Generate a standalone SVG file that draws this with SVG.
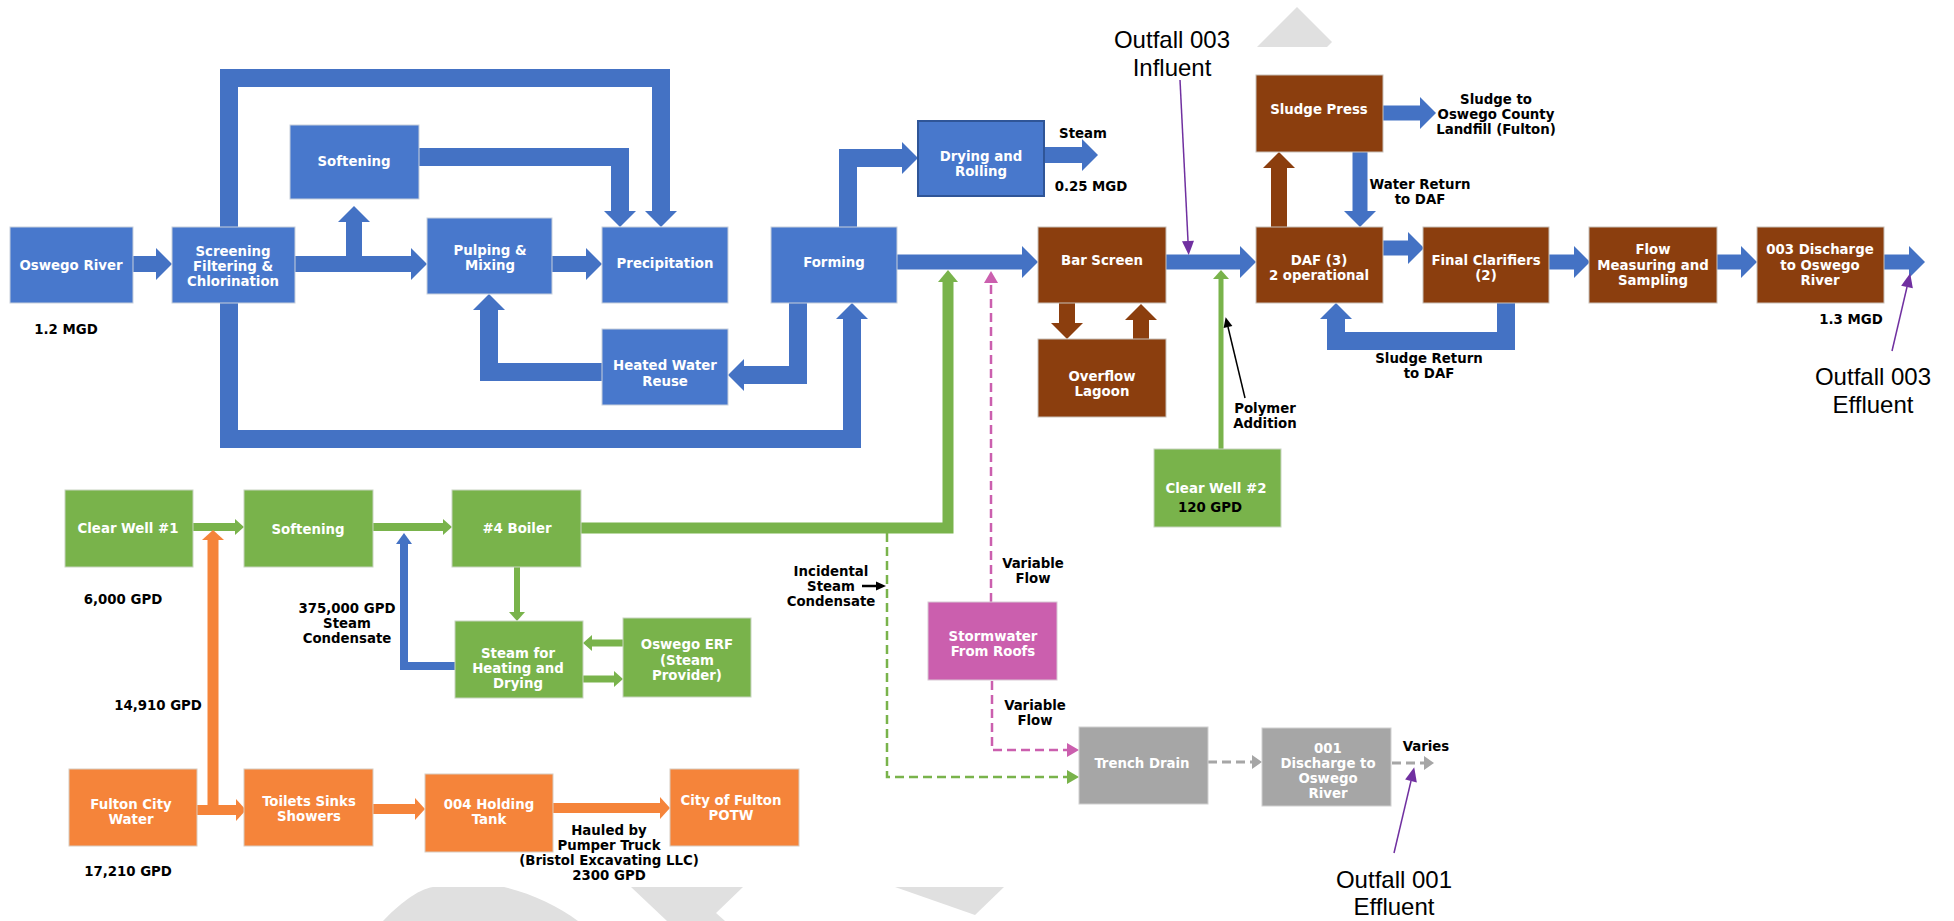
<svg xmlns="http://www.w3.org/2000/svg" width="1954" height="921" viewBox="0 0 1954 921">
<style>
.nb{fill:#4878CC;stroke:#c8d0dc;stroke-width:1}
.nr{fill:#8B3E0E;stroke:#c8c0b8;stroke-width:1}
.ng{fill:#79B34B;stroke:#c8d4c0;stroke-width:1}
.no{fill:#F5843A;stroke:#d8ccc0;stroke-width:1}
.np{fill:#CB5FAE;stroke:#d8c8d4;stroke-width:1}
.ny{fill:#A6A6A6;stroke:#d0d0d0;stroke-width:1}
text{font-family:"DejaVu Sans Condensed","DejaVu Sans",sans-serif;font-weight:bold;font-size:14.8px;text-anchor:middle}
.w{fill:#ffffff}
.k{fill:#000000}
.of{font-family:"Liberation Sans",Arial,sans-serif;font-weight:normal;font-size:24px;fill:#000}
.cb{fill:none;stroke:#4472C4;stroke-linejoin:miter}
.cr{fill:none;stroke:#8B3E0E}
.cg{fill:none;stroke:#79B34B}
.co{fill:none;stroke:#F5843A}
.wm{fill:#E0E0E0}
</style>
<defs>
<marker id="hB" markerUnits="userSpaceOnUse" markerWidth="16" markerHeight="32" viewBox="0 -16 16 32" refX="0" refY="0" orient="auto" overflow="visible"><path d="M0,-16 L16,0 L0,16 Z" fill="#4472C4"/></marker>
<marker id="hR" markerUnits="userSpaceOnUse" markerWidth="16" markerHeight="32" viewBox="0 -16 16 32" refX="0" refY="0" orient="auto" overflow="visible"><path d="M0,-16 L16,0 L0,16 Z" fill="#8B3E0E"/></marker>
<marker id="hBs" markerUnits="userSpaceOnUse" markerWidth="11" markerHeight="16" viewBox="0 -8 11 16" refX="0" refY="0" orient="auto" overflow="visible"><path d="M0,-8 L11,0 L0,8 Z" fill="#4472C4"/></marker>
<marker id="hG1" markerUnits="userSpaceOnUse" markerWidth="12" markerHeight="20" viewBox="0 -10 12 20" refX="0" refY="0" orient="auto" overflow="visible"><path d="M0,-10 L12,0 L0,10 Z" fill="#79B34B"/></marker>
<marker id="hGs" markerUnits="userSpaceOnUse" markerWidth="9" markerHeight="16" viewBox="0 -8 9 16" refX="0" refY="0" orient="auto" overflow="visible"><path d="M0,-8 L9,0 L0,8 Z" fill="#79B34B"/></marker>
<marker id="hGd" markerUnits="userSpaceOnUse" markerWidth="12" markerHeight="14" viewBox="0 -7 12 14" refX="0" refY="0" orient="auto" overflow="visible"><path d="M0,-7 L12,0 L0,7 Z" fill="#79B34B"/></marker>
<marker id="hO" markerUnits="userSpaceOnUse" markerWidth="10" markerHeight="22" viewBox="0 -11 10 22" refX="0" refY="0" orient="auto" overflow="visible"><path d="M0,-11 L10,0 L0,11 Z" fill="#F5843A"/></marker>
<marker id="hP" markerUnits="userSpaceOnUse" markerWidth="12" markerHeight="14" viewBox="0 -7 12 14" refX="0" refY="0" orient="auto" overflow="visible"><path d="M0,-7 L12,0 L0,7 Z" fill="#CB5FAE"/></marker>
<marker id="hY" markerUnits="userSpaceOnUse" markerWidth="10" markerHeight="14" viewBox="0 -7 10 14" refX="0" refY="0" orient="auto" overflow="visible"><path d="M0,-7 L10,0 L0,7 Z" fill="#A6A6A6"/></marker>
<marker id="hU" markerUnits="userSpaceOnUse" markerWidth="14" markerHeight="12" viewBox="0 -6 14 12" refX="0" refY="0" orient="auto" overflow="visible"><path d="M0,-6 L14,0 L0,6 Z" fill="#7030A0"/></marker>
<marker id="hK" markerUnits="userSpaceOnUse" markerWidth="10" markerHeight="9" viewBox="0 -4.5 10 9" refX="0" refY="0" orient="auto" overflow="visible"><path d="M0,-4.5 L10,0 L0,4.5 Z" fill="#000"/></marker>
</defs>
<rect width="1954" height="921" fill="#ffffff"/>
<g id="watermark">
<polygon class="wm" points="1297,7 1257,47 1327,47 1332,42"/>
<path class="wm" d="M383,921 C398,905 418,889 433,887 L504,887 C530,893 558,906 578,921 Z"/>
<polygon class="wm" points="631,887 743,887 716,913 725,921 667,921"/>
<polygon class="wm" points="895,887 1004,887 975,915"/>
</g>
<g id="connectors">
<path class="cb" stroke-width="18" d="M229,227 V78 H661 V211" marker-end="url(#hB)"/>
<path class="cb" stroke-width="18" d="M229,303 V439 H852 V319" marker-end="url(#hB)"/>
<path class="cb" stroke-width="16" d="M133,264 H156" marker-end="url(#hB)"/>
<path class="cb" stroke-width="16" d="M295,264 H411" marker-end="url(#hB)"/>
<path class="cb" stroke-width="16" d="M354,264 V222" marker-end="url(#hB)"/>
<path class="cb" stroke-width="16" d="M552,264 H586" marker-end="url(#hB)"/>
<path class="cb" stroke-width="18" d="M419,157 H620 V211" marker-end="url(#hB)"/>
<path class="cb" stroke-width="18" d="M602,372 H489 V310" marker-end="url(#hB)"/>
<path class="cb" stroke-width="18" d="M798,303 V375 H744" marker-end="url(#hB)"/>
<path class="cb" stroke-width="18" d="M848,227 V158 H902" marker-end="url(#hB)"/>
<path class="cb" stroke-width="16" d="M1044,155 H1082" marker-end="url(#hB)"/>
<path class="cb" stroke-width="15" d="M897,262 H1022" marker-end="url(#hB)"/>
<path class="cb" stroke-width="15" d="M1166,262 H1240" marker-end="url(#hB)"/>
<path class="cb" stroke-width="15" d="M1360,152 V211" marker-end="url(#hB)"/>
<path class="cb" stroke-width="15" d="M1383,113 H1420" marker-end="url(#hB)"/>
<path class="cb" stroke-width="15" d="M1383,248 H1408" marker-end="url(#hB)"/>
<path class="cb" stroke-width="18" d="M1506,303 V341 H1336 V319" marker-end="url(#hB)"/>
<path class="cb" stroke-width="15" d="M1549,262 H1574" marker-end="url(#hB)"/>
<path class="cb" stroke-width="15" d="M1717,262 H1741" marker-end="url(#hB)"/>
<path class="cb" stroke-width="15" d="M1884,262 H1909" marker-end="url(#hB)"/>
<path class="cb" stroke-width="8" d="M455,666 H404 V544" marker-end="url(#hBs)"/>
<path class="cr" stroke-width="16" d="M1067,303 V323" marker-end="url(#hR)"/>
<path class="cr" stroke-width="16" d="M1141,358 V320" marker-end="url(#hR)"/>
<path class="cr" stroke-width="16" d="M1279,227 V168" marker-end="url(#hR)"/>
<path class="cg" stroke-width="11" d="M581,528 H948 V282" marker-end="url(#hG1)"/>
<path class="cg" stroke-width="8" d="M193,527 H235" marker-end="url(#hGs)"/>
<path class="cg" stroke-width="8" d="M373,527 H443" marker-end="url(#hGs)"/>
<path class="cg" stroke-width="6" d="M517,567 V612" marker-end="url(#hGs)"/>
<path class="cg" stroke-width="7" d="M623,643 H592" marker-end="url(#hGs)"/>
<path class="cg" stroke-width="7" d="M583,679 H614" marker-end="url(#hGs)"/>
<path class="cg" stroke-width="5" d="M1221,449 V279" marker-end="url(#hGs)"/>
<path class="cg" stroke-width="2.5" stroke-dasharray="9,5" d="M887,533 V777 H1067" marker-end="url(#hGd)"/>
<path class="co" stroke-width="11" d="M213,810 V540" marker-end="url(#hO)"/>
<path class="co" stroke-width="10" d="M197,810 H236" marker-end="url(#hO)"/>
<path class="co" stroke-width="10" d="M373,809 H415" marker-end="url(#hO)"/>
<path class="co" stroke-width="10" d="M553,808 H660" marker-end="url(#hO)"/>
<path fill="none" stroke="#CB5FAE" stroke-width="2.5" stroke-dasharray="9,5" d="M991,602 V283" marker-end="url(#hP)"/>
<path fill="none" stroke="#CB5FAE" stroke-width="2.5" stroke-dasharray="9,5" d="M992,681 V750 H1067" marker-end="url(#hP)"/>
<path fill="none" stroke="#A6A6A6" stroke-width="3" stroke-dasharray="9,5" d="M1208,762 H1252" marker-end="url(#hY)"/>
<path fill="none" stroke="#A6A6A6" stroke-width="3" stroke-dasharray="9,5" d="M1392,763 H1424" marker-end="url(#hY)"/>
<path fill="none" stroke="#7030A0" stroke-width="1.5" d="M1180,80 L1188,241" marker-end="url(#hU)"/>
<path fill="none" stroke="#7030A0" stroke-width="1.5" d="M1892,351 L1907,287" marker-end="url(#hU)"/>
<path fill="none" stroke="#7030A0" stroke-width="1.5" d="M1394,853 L1411,781" marker-end="url(#hU)"/>
<path fill="none" stroke="#000" stroke-width="1.5" d="M1245,398 L1228,327" marker-end="url(#hK)"/>
<path fill="none" stroke="#000" stroke-width="2.5" d="M862,586 H876" marker-end="url(#hK)"/>
</g>
<g id="n-oswego-river"><rect class="nb" x="10" y="227" width="123" height="76"/><text class="w" x="71" y="270">Oswego River</text></g>
<g id="n-screening"><rect class="nb" x="172" y="227" width="123" height="76"/><text class="w" x="233" y="256">Screening</text><text class="w" x="233" y="271">Filtering &amp;</text><text class="w" x="233" y="286">Chlorination</text></g>
<g id="n-softening-blue"><rect class="nb" x="290" y="125" width="129" height="74"/><text class="w" x="354" y="166">Softening</text></g>
<g id="n-pulping"><rect class="nb" x="427" y="218" width="125" height="76"/><text class="w" x="490" y="255">Pulping &amp;</text><text class="w" x="490" y="270">Mixing</text></g>
<g id="n-precipitation"><rect class="nb" x="602" y="227" width="126" height="76"/><text class="w" x="665" y="268">Precipitation</text></g>
<g id="n-forming"><rect class="nb" x="771" y="227" width="126" height="76"/><text class="w" x="834" y="267">Forming</text></g>
<g id="n-heated"><rect class="nb" x="602" y="329" width="126" height="76"/><text class="w" x="665" y="370">Heated Water</text><text class="w" x="665" y="386">Reuse</text></g>
<g id="n-drying"><rect x="918" y="121" width="126" height="75" fill="#4878CC" stroke="#2F5597" stroke-width="2"/><text class="w" x="981" y="161">Drying and</text><text class="w" x="981" y="176">Rolling</text></g>
<g id="n-bar-screen"><rect class="nr" x="1038" y="227" width="128" height="76"/><text class="w" x="1102" y="265">Bar Screen</text></g>
<g id="n-overflow"><rect class="nr" x="1038" y="339" width="128" height="78"/><text class="w" x="1102" y="381">Overflow</text><text class="w" x="1102" y="396">Lagoon</text></g>
<g id="n-sludge-press"><rect class="nr" x="1256" y="75" width="127" height="77"/><text class="w" x="1319" y="114">Sludge Press</text></g>
<g id="n-daf"><rect class="nr" x="1256" y="227" width="127" height="76"/><text class="w" x="1319" y="265">DAF (3)</text><text class="w" x="1319" y="280">2 operational</text></g>
<g id="n-final-clarifiers"><rect class="nr" x="1423" y="227" width="126" height="76"/><text class="w" x="1486" y="265">Final Clarifiers</text><text class="w" x="1486" y="280">(2)</text></g>
<g id="n-flow-measuring"><rect class="nr" x="1589" y="227" width="128" height="76"/><text class="w" x="1653" y="254">Flow</text><text class="w" x="1653" y="270">Measuring and</text><text class="w" x="1653" y="285">Sampling</text></g>
<g id="n-003-discharge"><rect class="nr" x="1757" y="227" width="127" height="76"/><text class="w" x="1820" y="254">003 Discharge</text><text class="w" x="1820" y="270">to Oswego</text><text class="w" x="1820" y="285">River</text></g>
<g id="n-clear-well-1"><rect class="ng" x="65" y="490" width="128" height="77"/><text class="w" x="128" y="533">Clear Well #1</text></g>
<g id="n-softening-green"><rect class="ng" x="244" y="490" width="129" height="77"/><text class="w" x="308" y="534">Softening</text></g>
<g id="n-boiler"><rect class="ng" x="452" y="490" width="129" height="77"/><text class="w" x="517" y="533">#4 Boiler</text></g>
<g id="n-steam-heating"><rect class="ng" x="455" y="621" width="128" height="77"/><text class="w" x="518" y="658">Steam for</text><text class="w" x="518" y="673">Heating and</text><text class="w" x="518" y="688">Drying</text></g>
<g id="n-oswego-erf"><rect class="ng" x="623" y="618" width="128" height="79"/><text class="w" x="687" y="649">Oswego ERF</text><text class="w" x="687" y="665">(Steam</text><text class="w" x="687" y="680">Provider)</text></g>
<g id="n-clear-well-2"><rect class="ng" x="1154" y="449" width="127" height="78"/><text class="w" x="1216" y="493">Clear Well #2</text><text class="k" x="1210" y="512">120 GPD</text></g>
<g id="n-fulton-water"><rect class="no" x="69" y="769" width="128" height="77"/><text class="w" x="131" y="809">Fulton City</text><text class="w" x="131" y="824">Water</text></g>
<g id="n-toilets"><rect class="no" x="244" y="769" width="129" height="77"/><text class="w" x="309" y="806">Toilets Sinks</text><text class="w" x="309" y="821">Showers</text></g>
<g id="n-holding-tank"><rect class="no" x="425" y="774" width="128" height="78"/><text class="w" x="489" y="809">004 Holding</text><text class="w" x="489" y="824">Tank</text></g>
<g id="n-fulton-potw"><rect class="no" x="670" y="769" width="129" height="77"/><text class="w" x="731" y="805">City of Fulton</text><text class="w" x="731" y="820">POTW</text></g>
<g id="n-stormwater"><rect class="np" x="928" y="602" width="129" height="78"/><text class="w" x="993" y="641">Stormwater</text><text class="w" x="993" y="656">From Roofs</text></g>
<g id="n-trench-drain"><rect class="ny" x="1079" y="727" width="129" height="77"/><text class="w" x="1142" y="768">Trench Drain</text></g>
<g id="n-001-discharge"><rect class="ny" x="1262" y="728" width="129" height="78"/><text class="w" x="1328" y="753">001</text><text class="w" x="1328" y="768">Discharge to</text><text class="w" x="1328" y="783">Oswego</text><text class="w" x="1328" y="798">River</text></g>
<g id="labels">
<text class="k" x="66" y="334">1.2 MGD</text>
<text class="k" x="1083" y="138">Steam</text>
<text class="k" x="1091" y="191">0.25 MGD</text>
<text class="k" x="1420" y="189">Water Return</text><text class="k" x="1420" y="204">to DAF</text>
<text class="k" x="1496" y="104">Sludge to</text><text class="k" x="1496" y="119">Oswego County</text><text class="k" x="1496" y="134">Landfill (Fulton)</text>
<text class="k" x="1429" y="363">Sludge Return</text><text class="k" x="1429" y="378">to DAF</text>
<text class="k" x="1851" y="324">1.3 MGD</text>
<text class="k" x="1265" y="413">Polymer</text><text class="k" x="1265" y="428">Addition</text>
<text class="k" x="1033" y="568">Variable</text><text class="k" x="1033" y="583">Flow</text>
<text class="k" x="1035" y="710">Variable</text><text class="k" x="1035" y="725">Flow</text>
<text class="k" x="831" y="576">Incidental</text><text class="k" x="831" y="591">Steam</text><text class="k" x="831" y="606">Condensate</text>
<text class="k" x="1426" y="751">Varies</text>
<text class="k" x="123" y="604">6,000 GPD</text>
<text class="k" x="347" y="613">375,000 GPD</text><text class="k" x="347" y="628">Steam</text><text class="k" x="347" y="643">Condensate</text>
<text class="k" x="158" y="710">14,910 GPD</text>
<text class="k" x="128" y="876">17,210 GPD</text>
<text class="k" x="609" y="835">Hauled by</text><text class="k" x="609" y="850">Pumper Truck</text><text class="k" x="609" y="865">(Bristol Excavating LLC)</text><text class="k" x="609" y="880">2300 GPD</text>
<text class="of" x="1172" y="48">Outfall 003</text><text class="of" x="1172" y="76">Influent</text>
<text class="of" x="1873" y="385">Outfall 003</text><text class="of" x="1873" y="413">Effluent</text>
<text class="of" x="1394" y="888">Outfall 001</text><text class="of" x="1394" y="915">Effluent</text>
</g>
</svg>
